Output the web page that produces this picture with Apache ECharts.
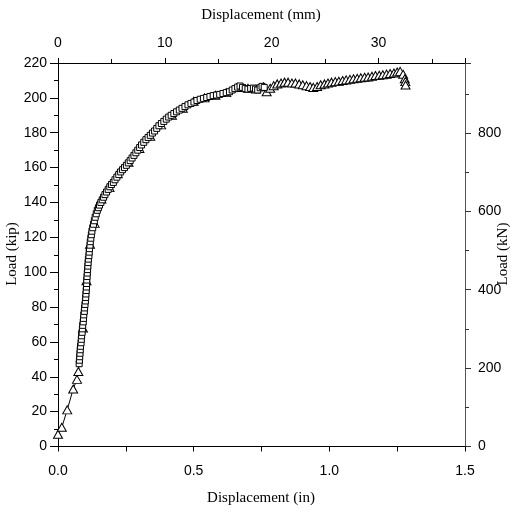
<!DOCTYPE html>
<html>
<head>
<meta charset="utf-8">
<script src="https://cdn.jsdelivr.net/npm/echarts@6/dist/echarts.min.js"></script>
<style>
  html, body { margin: 0; padding: 0; background: #fff; }
  #chart { width: 511px; height: 512px; }
</style>
</head>
<body>
<div id="chart"></div>
<script>
// Load–displacement response: displacement in inches, load in kips.
// Sparse readings (triangle markers) over the whole test.
const triDisp = [0.000, 0.014, 0.034, 0.056, 0.070, 0.075,
  0.092, 0.105, 0.118, 0.135, 0.160, 0.190, 0.220, 0.260, 0.300, 0.340, 0.380, 0.420,
  0.460, 0.500, 0.540, 0.580, 0.620, 0.660, 0.700, 0.730, 0.757, 0.769,
  0.782, 0.795, 0.808, 0.822, 0.835, 0.848, 0.862, 0.875, 0.889, 0.902, 0.916, 0.929,
  0.941, 0.955, 0.968, 0.982, 0.995, 1.008, 1.022, 1.035, 1.049, 1.062, 1.076, 1.089,
  1.103, 1.116, 1.130, 1.143, 1.157, 1.170, 1.184, 1.197, 1.211, 1.224, 1.238, 1.250,
  1.261, 1.272, 1.278, 1.280, 1.281];
const triLoad = [7.0, 11.0, 21.0, 33.0, 38.5, 43.0,
  68.0, 95.0, 116.0, 128.0, 142.0, 148.5, 156.5, 163.0, 171.0, 178.0, 184.5, 190.0,
  194.0, 198.0, 200.0, 201.5, 203.0, 206.0, 205.5, 205.0, 206.4, 203.5,
  205.5, 207.0, 208.0, 208.5, 209.0, 209.0, 208.5, 208.5, 208.0, 207.5, 207.0, 206.5,
  206.0, 206.5, 207.5, 208.0, 208.5, 209.0, 209.3, 209.5, 210.0, 210.3, 210.6, 211.0,
  211.2, 211.5, 211.8, 212.0, 212.4, 212.8, 213.0, 213.3, 213.6, 214.0, 214.3, 214.8,
  215.2, 213.5, 211.0, 209.3, 207.4];

// Dense readings (square markers) through the loading branch.
const sqDisp = [0.078, 0.079, 0.080, 0.081, 0.082, 0.083, 0.085, 0.086, 0.087, 0.089,
  0.090, 0.091, 0.093, 0.094, 0.095, 0.097, 0.098, 0.0995, 0.101, 0.102,
  0.103, 0.104, 0.105, 0.1055, 0.106, 0.107, 0.108, 0.109, 0.110, 0.111,
  0.112, 0.114, 0.115, 0.116, 0.118, 0.119, 0.121, 0.123, 0.125, 0.128,
  0.131, 0.134, 0.137, 0.141, 0.145, 0.149, 0.153, 0.158, 0.163, 0.168,
  0.173, 0.179, 0.185, 0.191, 0.197, 0.204, 0.210, 0.217, 0.224, 0.231,
  0.238, 0.245, 0.252, 0.259, 0.266, 0.273, 0.280, 0.287, 0.294, 0.301,
  0.308, 0.316, 0.324, 0.332, 0.340, 0.348, 0.356, 0.364, 0.372, 0.381,
  0.390, 0.399, 0.408, 0.417, 0.427, 0.437, 0.447, 0.457, 0.468, 0.479,
  0.490, 0.501, 0.512, 0.524, 0.536, 0.548, 0.560, 0.572, 0.584, 0.596,
  0.608, 0.620, 0.632, 0.642, 0.652, 0.662, 0.671, 0.680, 0.690, 0.700,
  0.710, 0.720, 0.728, 0.736, 0.745, 0.752, 0.760];
const sqLoad = [47.5, 49.5, 51.5, 53.5, 55.5, 57.5, 59.5, 61.5, 63.5, 65.5,
  67.5, 69.5, 71.5, 73.5, 75.5, 77.5, 79.5, 81.5, 83.5, 85.5,
  87.5, 89.5, 91.5, 93.5, 95.5, 97.5, 99.5, 101.5, 103.5, 105.5,
  107.5, 109.5, 111.5, 113.5, 115.5, 117.5, 119.5, 121.5, 123.5, 125.5,
  127.5, 129.5, 131.5, 133.5, 135.5, 137.0, 138.5, 140.0, 141.5, 143.0,
  144.5, 146.0, 147.5, 149.0, 150.3, 151.5, 153.0, 154.5, 156.0, 157.5,
  158.8, 160.0, 161.3, 162.7, 164.0, 165.5, 167.0, 168.5, 170.0, 171.5,
  173.0, 174.5, 176.0, 177.3, 178.5, 179.8, 181.0, 182.5, 184.0, 185.3,
  186.5, 187.8, 189.0, 190.0, 191.0, 192.0, 193.0, 194.0, 195.0, 196.0,
  196.8, 197.6, 198.5, 199.2, 199.7, 200.2, 200.8, 201.3, 201.6, 202.0,
  202.5, 203.0, 203.5, 204.5, 205.3, 206.2, 206.8, 206.0, 205.3, 205.0,
  205.4, 205.6, 205.0, 204.5, 205.8, 206.6, 206.0];

// Axis ranges and tick steps (primary: in / kip, secondary: mm / kN).
const inRange = [0, 1.5], inStep = 0.5;
const kipRange = [0, 220], kipStep = 20;
const mmPerIn = 25.4, kNPerKip = 4.448;
const mmStep = 10, kNStep = 200;

const zip = (xs, ys) => xs.map((x, i) => [x, ys[i]]);

const tickFont = { fontFamily: '"Liberation Sans Narrow", "Liberation Sans", Arial, sans-serif', fontSize: 14, color: '#000' };
const titleFont = '15px "Liberation Serif", "Times New Roman", serif';

const chart = echarts.init(document.getElementById('chart'), null, { renderer: 'canvas' });

const gridBox = { top: 63, bottom: 65.5, left: 58, right: 46 };

chart.setOption({
  animation: false,
  backgroundColor: '#fff',
  grid: Object.assign({ containLabel: false }, gridBox),
  xAxis: [
    {
      type: 'value', position: 'bottom',
      min: inRange[0], max: inRange[1], interval: inStep,
      axisLine: { show: true, onZero: false, lineStyle: { color: '#000', width: 1 } },
      axisTick: { show: true, inside: false, length: 5, lineStyle: { color: '#000' } },
      minorTick: { show: true, splitNumber: 2, length: 5, lineStyle: { color: '#000' } },
      splitLine: { show: false },
      axisLabel: Object.assign({ margin: 18, formatter: v => v.toFixed(1) }, tickFont)
    },
    {
      type: 'value', position: 'top',
      min: inRange[0] * mmPerIn, max: inRange[1] * mmPerIn, interval: mmStep,
      axisLine: { show: true, onZero: false, lineStyle: { color: '#000', width: 1 } },
      axisTick: { show: true, inside: false, length: 5, lineStyle: { color: '#000' } },
      minorTick: { show: true, splitNumber: 2, length: 4, lineStyle: { color: '#000' } },
      splitLine: { show: false },
      axisLabel: Object.assign({ margin: 13, showMaxLabel: false,
        formatter: v => (Math.abs(v % mmStep) < 1e-6 ? String(v) : '') }, tickFont)
    }
  ],
  yAxis: [
    {
      type: 'value', position: 'left',
      min: kipRange[0], max: kipRange[1], interval: kipStep,
      axisLine: { show: true, onZero: false, lineStyle: { color: '#000', width: 1 } },
      axisTick: { show: true, inside: false, length: 8, lineStyle: { color: '#000' } },
      minorTick: { show: true, splitNumber: 2, length: 4, lineStyle: { color: '#000' } },
      splitLine: { show: false },
      axisLabel: Object.assign({ margin: 11 }, tickFont)
    },
    {
      type: 'value', position: 'right',
      min: kipRange[0] * kNPerKip, max: kipRange[1] * kNPerKip, interval: kNStep,
      axisLine: { show: true, onZero: false, lineStyle: { color: '#555', width: 1 } },
      axisTick: { show: true, inside: false, length: 6, lineStyle: { color: '#333' } },
      minorTick: { show: true, splitNumber: 2, length: 4, lineStyle: { color: '#333' } },
      splitLine: { show: false },
      axisLabel: Object.assign({ margin: 13, showMaxLabel: false,
        formatter: v => (Math.abs(v % kNStep) < 1e-6 ? String(v) : '') }, tickFont)
    }
  ],
  series: [
    {
      type: 'line', name: 'triangles', xAxisIndex: 0, yAxisIndex: 0,
      data: zip(triDisp, triLoad),
      symbol: 'triangle', symbolSize: [9, 8], showAllSymbol: true,
      lineStyle: { color: '#000', width: 1 },
      itemStyle: { color: '#fff', borderColor: '#000', borderWidth: 1 },
      z: 2
    },
    {
      type: 'line', name: 'squares', xAxisIndex: 0, yAxisIndex: 0,
      data: zip(sqDisp, sqLoad),
      symbol: 'rect', symbolSize: 6, showAllSymbol: true,
      lineStyle: { color: '#000', width: 1 },
      itemStyle: { color: '#fff', borderColor: '#000', borderWidth: 1 },
      z: 3
    }
  ],
  graphic: [
    { type: 'text', style: { text: 'Displacement (mm)', font: titleFont, fill: '#000', align: 'center', verticalAlign: 'middle' }, x: 261, y: 15 },
    { type: 'text', style: { text: 'Displacement (in)', font: titleFont, fill: '#000', align: 'center', verticalAlign: 'middle' }, x: 261, y: 498 },
    { type: 'text', style: { text: 'Load (kip)', font: titleFont, fill: '#000', align: 'center', verticalAlign: 'middle' }, x: 12, y: 254, rotation: Math.PI / 2 },
    { type: 'text', style: { text: 'Load (kN)', font: titleFont, fill: '#000', align: 'center', verticalAlign: 'middle' }, x: 503, y: 254, rotation: Math.PI / 2 }
  ]
});
</script>
</body>
</html>
